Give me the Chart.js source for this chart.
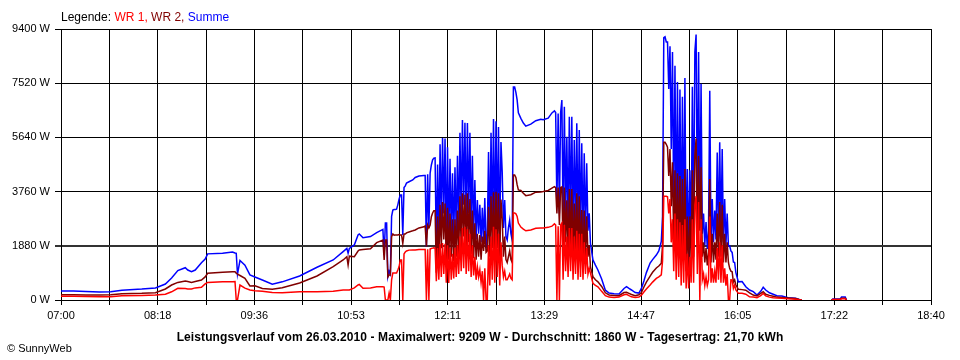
<!DOCTYPE html>
<html><head><meta charset="utf-8">
<script src="https://cdn.jsdelivr.net/npm/chart.js@4"></script>
<style>
html,body{margin:0;padding:0;background:#fff;}
#wrap{position:relative;width:960px;height:360px;overflow:hidden;}
canvas{position:absolute;left:0;top:0;}
.t{position:absolute;font-family:"Liberation Sans",Arial,sans-serif;white-space:nowrap;line-height:normal;color:#000;}
#legend{left:61px;top:10px;font-size:12px;}
#title{left:0;width:960px;text-align:center;top:330px;font-size:12px;font-weight:bold;letter-spacing:0.1px;}
#copy{left:7px;top:342px;font-size:11px;}
</style></head>
<body><div id="wrap"><canvas id="c" width="960" height="360"></canvas>
<div class="t" id="legend">Legende: <span style="color:#ff0000">WR 1,</span> <span style="color:#800000">WR 2,</span> <span style="color:#0000ff">Summe</span></div>
<div class="t" id="title">Leistungsverlauf vom 26.03.2010 - Maximalwert: 9209 W - Durchschnitt: 1860 W - Tagesertrag: 21,70 kWh</div>
<div class="t" id="copy">© SunnyWeb</div>
</div>
<script>
// minutes after 07:00
const minutes = [
0,10,20,31,40,49,65,76,84,89,
94,100,102,105,108,113,116,118,130,138,
140,141,142,144,148,152,156,162,170,178,
192,206,219,227,230,231,232,236,239,240,
243,249,254,259,260,261,262,263,264,265,
266,267,268,269,270,271,272,273,274,275,
276,277,278,280,283,285,288,292,293,294,
295,296,297,298,299,300,301,302,303,304,
305,306,307,308,309,310,311,312,313,314,
315,316,317,318,319,320,321,322,323,324,
325,326,327,328,329,330,331,332,333,334,
335,336,337,338,339,340,341,342,343,344,
345,346,347,348,349,350,351,352,353,354,
355,356,357,358,359,360,361,362,363,364,
365,366,367,368,370,372,374,378,382,386,
388,392,395,397,398,399,400,401,402,403,
404,405,406,407,408,409,410,411,412,413,
414,415,416,417,418,419,420,421,422,423,
424,425,426,428,430,432,435,438,441,445,
449,453,455,457,459,462,465,467,469,471,
474,476,479,481,483,484,485,486,487,488,
489,490,491,492,493,494,495,496,497,498,
499,500,501,502,503,504,505,506,507,508,
509,510,511,512,513,514,515,516,517,518,
519,520,521,522,523,524,525,526,527,528,
529,530,531,532,533,534,535,536,537,538,
539,540,541,542,543,545,548,551,554,557,
560,563,565,567,570,573,576,580,585,591,
594,596,597,620,621,627,628,631,632
];
const summe = [
312,312,295,278,290,340,380,420,555,763,
1020,1120,1040,985,1040,1290,1420,1600,1620,1665,
1630,1620,900,1370,1210,870,800,694,545,630,
833,1135,1388,1680,1790,1620,1790,1908,2255,2290,
2160,2200,2335,2450,1561,2670,2670,810,1000,900,
2900,3122,3140,3140,3150,3300,3500,3640,3640,2255,
3900,3960,4060,4100,4163,4250,4300,4320,4320,1850,
4360,2500,4400,4683,4860,4920,4926,1600,4700,2000,
5400,2600,5620,3000,5600,1800,5300,2000,4900,2200,
4400,2100,4600,2300,5000,2500,5800,2800,6240,3300,
6150,2600,6140,3000,5800,2400,5000,2300,4160,2100,
3470,2300,3300,2000,3200,1977,3540,1800,2300,5130,
2000,5800,2500,6280,2200,6200,2600,6000,2000,5480,
4440,2500,3470,2200,2081,2500,2775,2300,2081,7389,
7390,7200,6940,6490,6300,6140,6030,6100,6220,6270,
6250,6310,6490,6560,6500,3300,6470,3000,6500,6938,
2500,6705,3000,5665,2300,6360,2800,6360,2200,5550,
2600,6130,2100,5900,2400,5436,2000,5090,2300,4740,
2400,3010,1967,1390,1210,1040,730,340,240,220,
210,400,460,400,347,260,240,400,660,950,
1280,1400,1560,1700,2030,2900,9100,9130,8950,8950,
7320,8800,5240,8600,3000,8128,2463,7560,2460,7300,
2000,7050,2100,7700,1318,4545,1500,4500,2000,7400,
2200,8600,9209,3000,8600,2500,7500,2300,3000,1900,
2700,1770,2400,7260,2000,3500,2000,3100,2100,5120,
2200,5470,2200,5240,2000,3500,1900,3000,1880,1880,
1700,1650,1318,1300,950,630,640,460,347,290,
173,300,440,347,250,200,150,140,80,60,
20,0,null,0,35,35,100,100,0
];
const wr1 = [
128,128,120,110,110,150,160,170,200,285,
406,400,382,382,420,440,560,610,635,635,
640,0,0,520,410,347,320,300,260,250,
285,285,300,347,347,347,350,420,520,540,
410,420,460,460,450,0,0,0,240,0,
700,937,937,937,937,1040,1150,1388,1388,0,
1600,1665,1700,1730,1735,1735,1750,1750,1750,0,
1760,0,1770,1790,1800,1810,1800,650,1800,700,
1950,800,1977,900,1950,600,1900,590,1800,700,
1600,750,1800,800,1900,900,2200,1000,2500,1100,
2540,900,2450,1000,2300,800,1900,850,1500,700,
1150,800,1050,600,1000,0,1100,0,0,1900,
500,2200,700,2540,600,2450,800,2300,500,2000,
1200,800,1000,700,700,800,900,750,700,3018,
3018,2990,2900,2670,2530,2460,2400,2430,2490,2500,
2500,2520,2560,2640,2600,0,2560,0,2600,2671,
700,2600,1000,2200,800,2500,1000,2500,700,2200,
900,2400,700,2300,800,2300,700,2000,900,1800,
900,1100,930,580,510,460,300,150,100,90,
100,180,200,150,110,90,100,170,280,380,
520,620,750,800,870,1350,3600,3600,3600,3580,
3000,3500,2000,2800,1000,3000,700,2800,800,2700,
500,2600,600,2800,400,1600,400,1500,600,2800,
600,3300,3600,900,3400,0,2800,700,900,500,
800,500,700,2900,600,1100,600,1000,600,1800,
700,2000,600,1900,600,1100,500,900,0,0,
700,694,400,520,347,230,230,200,110,100,
80,150,230,140,100,80,70,60,40,30,
10,0,null,0,15,15,40,40,0
];
const wr2 = [
184,184,175,175,180,220,230,250,382,520,
610,660,640,610,640,694,800,925,960,980,
980,930,900,850,750,486,490,400,370,425,
590,833,1156,1388,1500,1214,1520,1500,1700,1735,
1750,1780,1990,2081,1390,2081,2081,800,870,870,
2200,2290,2250,2255,2255,2255,2270,2255,2255,1967,
2290,2290,2330,2360,2400,2430,2500,2540,2570,1850,
2600,2500,2600,2890,3020,3100,3100,950,2900,1300,
3300,1800,3400,2100,3350,1200,3200,1400,3000,1500,
2800,1350,2800,1500,3100,1600,3600,1800,3700,2200,
3650,1700,3700,2000,3500,1600,3100,1450,2660,1400,
2300,1500,2250,1400,2200,1700,2400,1650,1700,3230,
1500,3600,1800,3740,1600,3750,1800,3700,1500,3480,
2800,1500,2200,1400,1300,1500,1700,1400,1300,4336,
4336,4250,4000,3820,3800,3700,3620,3650,3740,3750,
3760,3800,3880,3930,3900,3000,3900,2600,3900,3920,
1700,3900,2000,3460,1500,3850,1800,3850,1400,3350,
1700,3700,1400,3600,1500,3120,1300,3100,1400,2900,
1500,1900,1150,810,700,630,470,250,173,160,
150,260,270,230,190,150,180,260,450,620,
830,960,1110,1180,1270,1900,5470,5470,5400,5300,
4300,5238,3250,4777,2000,4500,1500,4400,1600,4300,
1300,4200,1400,4545,1000,2900,1000,2900,1400,4500,
1500,5000,5600,2000,5000,2400,4600,1500,2000,1300,
1800,1200,1650,4200,1300,2300,1300,2000,1400,3000,
1500,3400,1500,3300,1300,2300,1300,2000,1300,1100,
1000,980,620,700,520,370,360,340,250,170,
140,230,290,200,160,130,100,90,70,50,
15,0,null,0,20,20,60,60,0
];
const tickLabels = ['07:00','08:18','09:36','10:53','12:11','13:29','14:47','16:05','17:22','18:40'];
const yTicks = [0,1880,3760,5640,7520,9400];

function pts(arr){ return minutes.map((m,i)=>({x:m, y:arr[i]})); }
const font = {family:'"Liberation Sans", Arial, sans-serif', size:11};

new Chart(document.getElementById('c'), {
  type:'line',
  data:{ datasets:[
    {label:'WR 1', data:pts(wr1), borderColor:'#ff0000', borderWidth:1.5, pointRadius:0, tension:0, spanGaps:false},
    {label:'WR 2', data:pts(wr2), borderColor:'#800000', borderWidth:1.5, pointRadius:0, tension:0, spanGaps:false},
    {label:'Summe', data:pts(summe), borderColor:'#0000ff', borderWidth:1.5, pointRadius:0, tension:0, spanGaps:false}
  ]},
  options:{
    responsive:false, animation:false, events:[],
    layout:{padding:{left:0, top:29, right:29, bottom:0}},
    plugins:{legend:{display:false}, tooltip:{enabled:false}, title:{display:false}},
    scales:{
      x:{ type:'linear', min:0, max:700, z:1,
        afterBuildTicks: s => { s.ticks = Array.from({length:19}, (_,i)=>({value:i*700/18})); },
        ticks:{ autoSkip:false, maxRotation:0, padding:4, color:'#000', font:font,
          callback:(v,i)=> i%2===0 ? tickLabels[i/2] : '' },
        grid:{ color:'#000', lineWidth:1, tickLength:5, drawTicks:true },
        border:{ color:'#000', width:1 },
        afterFit: s => { s.height = 60; }
      },
      y:{ min:0, max:9400, z:1,
        afterBuildTicks: s => { s.ticks = yTicks.map(v=>({value:v})); },
        ticks:{ padding:5, color:'#000', font:font, callback: v => v + ' W' },
        grid:{ color: c => (c.tick && c.tick.value === 1880) ? '#333' : '#000',
               lineWidth: c => (c.tick && c.tick.value === 1880) ? 2 : 1,
               tickLength:6, drawTicks:true },
        border:{ color:'#000', width:1 },
        afterFit: s => { s.width = 61; }
      }
    }
  }
});
</script>
</body></html>
